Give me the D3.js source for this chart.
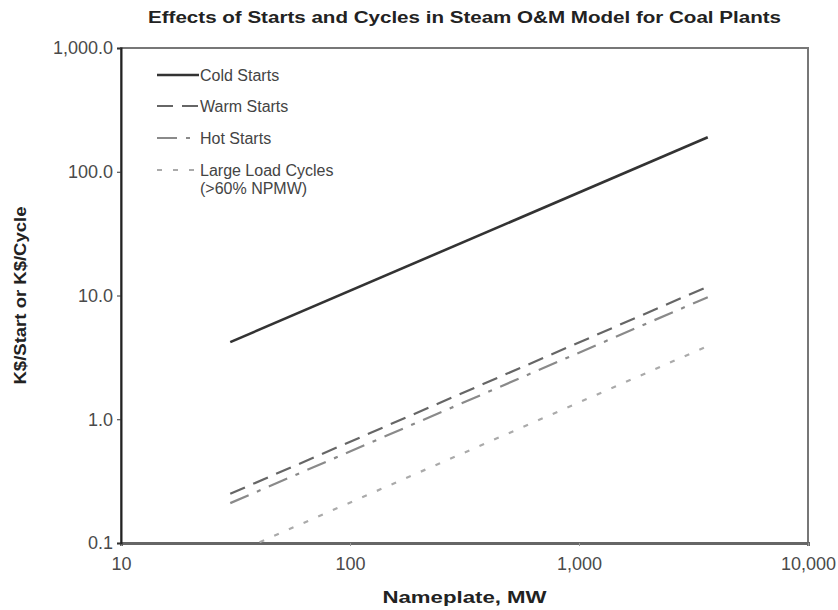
<!DOCTYPE html>
<html>
<head>
<meta charset="utf-8">
<script src="https://cdn.jsdelivr.net/npm/d3@7"></script>
<style>
  body { margin: 0; background: #fff; }
  svg text { font-family: "Liberation Sans", Arial, sans-serif; }
</style>
</head>
<body>
<div id="chart"></div>
<script>
// values
var nameplateMW = [30, 3650];
var coldStarts = [4.2, 190];
var warmStarts = [0.25, 11.8];
var hotStarts = [0.21, 9.7];
var largeLoadCycles = [0.08, 3.9];

var xTicks = [10, 100, 1000, 10000];
var yTicks = [0.1, 1, 10, 100, 1000];

var seriesNames = ["Cold Starts", "Warm Starts", "Hot Starts", "Large Load Cycles"];

var width = 838, height = 610;
var margin = {top: 48, right: 30, bottom: 67, left: 121};

var svg = d3.select("#chart").append("svg")
  .attr("width", width)
  .attr("height", height);

var x = d3.scaleLog()
  .domain([10, 10000])
  .range([margin.left, width - margin.right]);

var y = d3.scaleLog()
  .domain([0.1, 1000])
  .range([height - margin.bottom, margin.top]);

// frame
svg.append("rect")
  .attr("x", x(10))
  .attr("y", y(1000))
  .attr("width", x(10000) - x(10))
  .attr("height", y(0.1) - y(1000))
  .attr("fill", "none")
  .attr("stroke", "#777")
  .attr("stroke-width", 2);

// axes
var xAxis = svg.append("g")
  .attr("transform", "translate(0," + y(0.1) + ")")
  .call(d3.axisBottom(x).tickValues(xTicks).tickFormat(d3.format(",")).tickSize(3).tickPadding(11));

var yAxis = svg.append("g")
  .attr("transform", "translate(" + x(10) + ",0)")
  .call(d3.axisLeft(y).tickValues(yTicks).tickFormat(d3.format(",.1f")).tickSize(4).tickPadding(4));

xAxis.select(".domain").attr("stroke", "#666").attr("stroke-width", 3);
yAxis.select(".domain").attr("stroke", "#222").attr("stroke-width", 2);
xAxis.selectAll(".tick line").attr("stroke", "#999");
yAxis.selectAll(".tick line").attr("stroke", "#333");
svg.selectAll(".tick text")
  .attr("font-size", 18)
  .attr("fill", "#4a4a4a")
  .style("font-family", "'Liberation Sans', Arial, sans-serif");

// clip to plot area
svg.append("clipPath").attr("id", "plot-clip")
  .append("rect")
  .attr("x", x(10))
  .attr("y", y(1000))
  .attr("width", x(10000) - x(10))
  .attr("height", y(0.1) - y(1000));

var styles = [
  {color: "#333", dash: null, w: 2.6},
  {color: "#666", dash: "16,9", w: 2.2},
  {color: "#8a8a8a", dash: "20,9,4,9", w: 2.2},
  {color: "#aaa", dash: "5,11", w: 2.2}
];

var seriesValues = [coldStarts, warmStarts, hotStarts, largeLoadCycles];

var line = d3.line()
  .x(function(d) { return x(d[0]); })
  .y(function(d) { return y(d[1]); });

svg.append("g")
  .attr("clip-path", "url(#plot-clip)")
  .selectAll("path")
  .data(seriesValues)
  .enter()
  .append("path")
  .attr("d", function(vals) {
    return line(nameplateMW.map(function(m, i) { return [m, vals[i]]; }));
  })
  .attr("fill", "none")
  .attr("stroke", function(d, i) { return styles[i].color; })
  .attr("stroke-width", function(d, i) { return styles[i].w; })
  .attr("stroke-dasharray", function(d, i) { return styles[i].dash; });

// legend
var legendY = [75, 106, 138, 170];
var legend = svg.append("g");

legend.selectAll("line")
  .data(seriesNames)
  .enter()
  .append("line")
  .attr("x1", 157)
  .attr("x2", 199)
  .attr("y1", function(d, i) { return legendY[i]; })
  .attr("y2", function(d, i) { return legendY[i]; })
  .attr("stroke", function(d, i) { return styles[i].color; })
  .attr("stroke-width", function(d, i) { return styles[i].w; })
  .attr("stroke-dasharray", function(d, i) { return styles[i].dash; });

legend.selectAll("text")
  .data(seriesNames)
  .enter()
  .append("text")
  .attr("x", 200)
  .attr("y", function(d, i) { return legendY[i] + 6; })
  .attr("font-size", 16)
  .attr("fill", "#444")
  .text(function(d) { return d; });

legend.append("text")
  .attr("x", 200)
  .attr("y", legendY[3] + 24)
  .attr("font-size", 16)
  .attr("fill", "#444")
  .text("(>60% NPMW)");

// titles
svg.append("text")
  .attr("x", (x(10) + x(10000)) / 2)
  .attr("y", 23)
  .attr("text-anchor", "middle")
  .attr("font-size", 16)
  .attr("font-weight", "bold")
  .attr("fill", "#222")
  .attr("textLength", 633)
  .attr("lengthAdjust", "spacingAndGlyphs")
  .text("Effects of Starts and Cycles in Steam O&M Model for Coal Plants");

svg.append("text")
  .attr("x", (x(10) + x(10000)) / 2)
  .attr("y", 603)
  .attr("text-anchor", "middle")
  .attr("font-size", 16)
  .attr("font-weight", "bold")
  .attr("fill", "#222")
  .attr("textLength", 164)
  .attr("lengthAdjust", "spacingAndGlyphs")
  .text("Nameplate, MW");

svg.append("text")
  .attr("transform", "translate(26," + (y(0.1) + y(1000)) / 2 + ") rotate(-90)")
  .attr("text-anchor", "middle")
  .attr("font-size", 16)
  .attr("font-weight", "bold")
  .attr("fill", "#222")
  .attr("textLength", 178)
  .attr("lengthAdjust", "spacingAndGlyphs")
  .text("K$/Start or K$/Cycle");
</script>
</body>
</html>
